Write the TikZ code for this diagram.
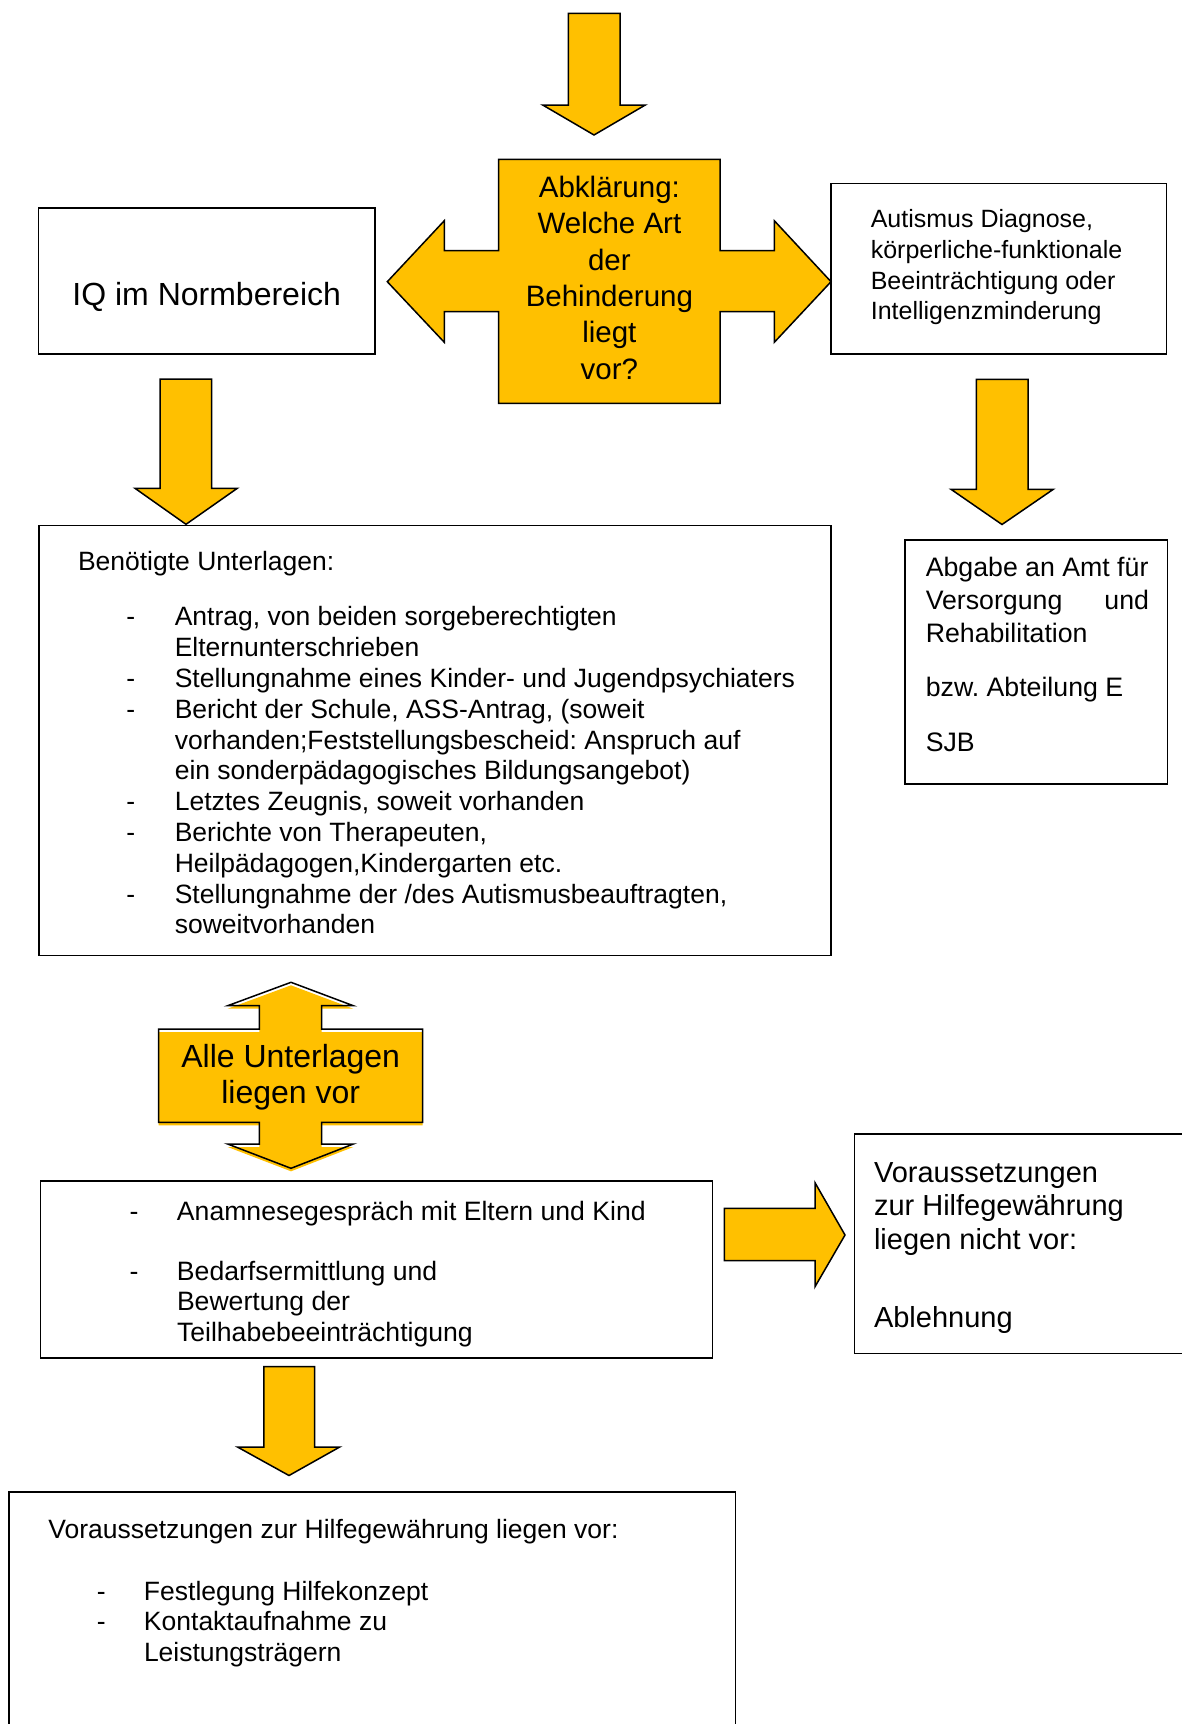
\documentclass[tikz,border=0pt]{standalone}
\usepackage{fontspec}
\setmainfont{Liberation Sans}
\frenchspacing
\definecolor{gold}{RGB}{255,192,0}
\newlength\dashx
\newlength\hangx
\newcommand\litem[1]{\par\hangindent=\hangx\hangafter=1\noindent\hspace*{\dashx}\makebox[\dimexpr\hangx-\dashx\relax][l]{-}#1}
\tikzset{
  box/.style={draw=black, line width=1.5pt, fill=white, anchor=north west, inner sep=0pt, outer sep=0pt},
  blockarrow/.style={fill=gold, draw=black, line width=1.5pt, line join=miter},
  txt/.style={anchor=base west, inner sep=0pt, outer sep=0pt},
  ctxt/.style={anchor=base, inner sep=0pt, outer sep=0pt},
}
\begin{document}
\begin{tikzpicture}[x=1pt,y=-1pt]
\useasboundingbox (0,0) rectangle (1182,1724);
\fill[white] (0,0) rectangle (1182,1724);
\clip (0,0) rectangle (1182,1724);

% boxes
\node[box, minimum width=336.5pt, minimum height=146.2pt] (iq) at (38.5,207.8) {};
\node[box, minimum width=335.6pt, minimum height=170.4pt] (aut) at (831,183.6) {};
\node[box, minimum width=792.2pt, minimum height=429.8pt] (ben) at (39,525.7) {};
\node[box, minimum width=262.8pt, minimum height=244.1pt] (abg) at (904.9,539.9) {};
\node[box, minimum width=671.8pt, minimum height=177pt] (ana) at (40.7,1180.9) {};
\node[box, minimum width=360pt, minimum height=219.3pt] (abl) at (854.7,1134) {};
\node[box, minimum width=726.8pt, minimum height=260pt] (vor) at (8.8,1492) {};

% top arrow
\draw[blockarrow] (568.3,13.3) -- (620,13.3) -- (620,105) -- (645.3,105) -- (594,135) -- (542.7,105) -- (568.3,105) -- cycle;
% centre shape with left/right arrows
\draw[blockarrow] (498.7,159.3) -- (720,159.3) -- (720,250.7) -- (774.3,250.7) -- (774.3,220.7) -- (831,281.7) -- (774.3,342.3) -- (774.3,311.7) -- (720,311.7) -- (720,403.3) -- (498.7,403.3) -- (498.7,311.7) -- (444.3,311.7) -- (444.3,342.3) -- (387.3,281.7) -- (444.3,220.7) -- (444.3,250.7) -- (498.7,250.7) -- cycle;
% left down arrow
\draw[blockarrow] (160,379) -- (211.7,379) -- (211.7,488.3) -- (237.3,488.3) -- (186,524.3) -- (135,488.3) -- (160,488.3) -- cycle;
% right down arrow
\draw[blockarrow] (976.4,379.3) -- (1028,379.3) -- (1028,489.3) -- (1053.3,489.3) -- (1002,524.5) -- (951,489.3) -- (976.4,489.3) -- cycle;
% double arrow "Alle Unterlagen"
\fill[gold, shift={(0,3)}] (291,982.3) -- (353.3,1005.7) -- (321.7,1005.7) -- (321.7,1029) -- (422.7,1029) -- (422.7,1122.3) -- (321.7,1122.3) -- (321.7,1144) -- (353.3,1144) -- (291,1168.3) -- (227.7,1144) -- (259.3,1144) -- (259.3,1122.3) -- (158.7,1122.3) -- (158.7,1029) -- (259.3,1029) -- (259.3,1005.7) -- (227.7,1005.7) -- cycle;
\draw[line width=1.5pt, line join=miter] (291,982.3) -- (353.3,1005.7) -- (321.7,1005.7) -- (321.7,1029) -- (422.7,1029) -- (422.7,1122.3) -- (321.7,1122.3) -- (321.7,1144) -- (353.3,1144) -- (291,1168.3) -- (227.7,1144) -- (259.3,1144) -- (259.3,1122.3) -- (158.7,1122.3) -- (158.7,1029) -- (259.3,1029) -- (259.3,1005.7) -- (227.7,1005.7) -- cycle;
% right arrow to Ablehnung
\draw[blockarrow] (724.3,1208.3) -- (815,1208.3) -- (815,1182.7) -- (845,1235) -- (815,1286.7) -- (815,1260.7) -- (724.3,1260.7) -- cycle;
% bottom down arrow
\draw[blockarrow] (263.9,1366.7) -- (314.5,1366.7) -- (314.5,1447) -- (339.7,1447) -- (289,1475.5) -- (237.5,1447) -- (263.9,1447) -- cycle;

% texts
\node[ctxt] (tiq) at (206.7,305.5) {\fontsize{32}{36}\selectfont IQ im Normbereich};
\node[ctxt] (tabk) at (609.4,197.5) {\parbox[t]{210pt}{\centering\fontsize{29.5}{36.3}\selectfont Abklärung:\\Welche Art\\der\\Behinderung\\liegt\\vor?}};
\node[txt] (taut) at (870.8,227.5) {\parbox[t]{290pt}{\raggedright\fontsize{25}{30.8}\selectfont Autismus Diagnose,\\körperliche-funktionale\\Beeinträchtigung oder\\Intelligenzminderung}};
\node[txt] (tben) at (78,570.8) {\parbox[t]{740pt}{\parindent=0pt\fontsize{26.5}{30.8}\selectfont
Benötigte Unterlagen:\par\vspace{24.2pt}%
\setlength\dashx{48.4pt}\setlength\hangx{96.8pt}%
\litem{Antrag, von beiden sorgeberechtigten\\Elternunterschrieben}
\litem{Stellungnahme eines Kinder- und Jugendpsychiaters}
\litem{Bericht der Schule, ASS-Antrag, (soweit\\vorhanden;Feststellungsbescheid: Anspruch auf\\ein sonderpädagogisches Bildungsangebot)}
\litem{Letztes Zeugnis, soweit vorhanden}
\litem{Berichte von Therapeuten,\\Heilpädagogen,Kindergarten etc.}
\litem{Stellungnahme der /des Autismusbeauftragten,\\soweitvorhanden}\par}};
\node[txt] (tabg) at (925.8,576.3) {\parbox[t]{223.2pt}{\fontsize{26.7}{33}\selectfont\noindent
Abgabe an Amt für\hfill\null\\Versorgung\hfill und\\Rehabilitation\hfill\null\par\vspace{21pt}\noindent
bzw. Abteilung E\par\vspace{22pt}\noindent SJB\par}};
\node[ctxt] (talle) at (290.7,1067.6) {\parbox[t]{260pt}{\centering\fontsize{32}{36.3}\selectfont Alle Unterlagen\\liegen vor}};
\node[txt] (tana) at (129.7,1220.6) {\parbox[t]{560pt}{\parindent=0pt\fontsize{26.6}{30.8}\selectfont
\setlength\dashx{0pt}\setlength\hangx{47.3pt}%
\litem{Anamnesegespräch mit Eltern und Kind}\par\vspace{28.6pt}%
\litem{Bedarfsermittlung und\\Bewertung der\\Teilhabebeeinträchtigung}\par}};
\node[txt] (tabl) at (874,1182) {\parbox[t]{300pt}{\raggedright\fontsize{29}{33.5}\selectfont
Voraussetzungen\\zur Hilfegewährung\\liegen nicht vor:\par\vspace{44.5pt}Ablehnung\par}};
\node[txt] (tvor) at (48.4,1538.4) {\parbox[t]{680pt}{\parindent=0pt\fontsize{26.5}{30.8}\selectfont
Voraussetzungen zur Hilfegewährung liegen vor:\par\vspace{30.8pt}%
\setlength\dashx{48.4pt}\setlength\hangx{95.6pt}%
\litem{Festlegung Hilfekonzept}
\litem{Kontaktaufnahme zu\\Leistungsträgern}\par}};
\end{tikzpicture}
\end{document}
